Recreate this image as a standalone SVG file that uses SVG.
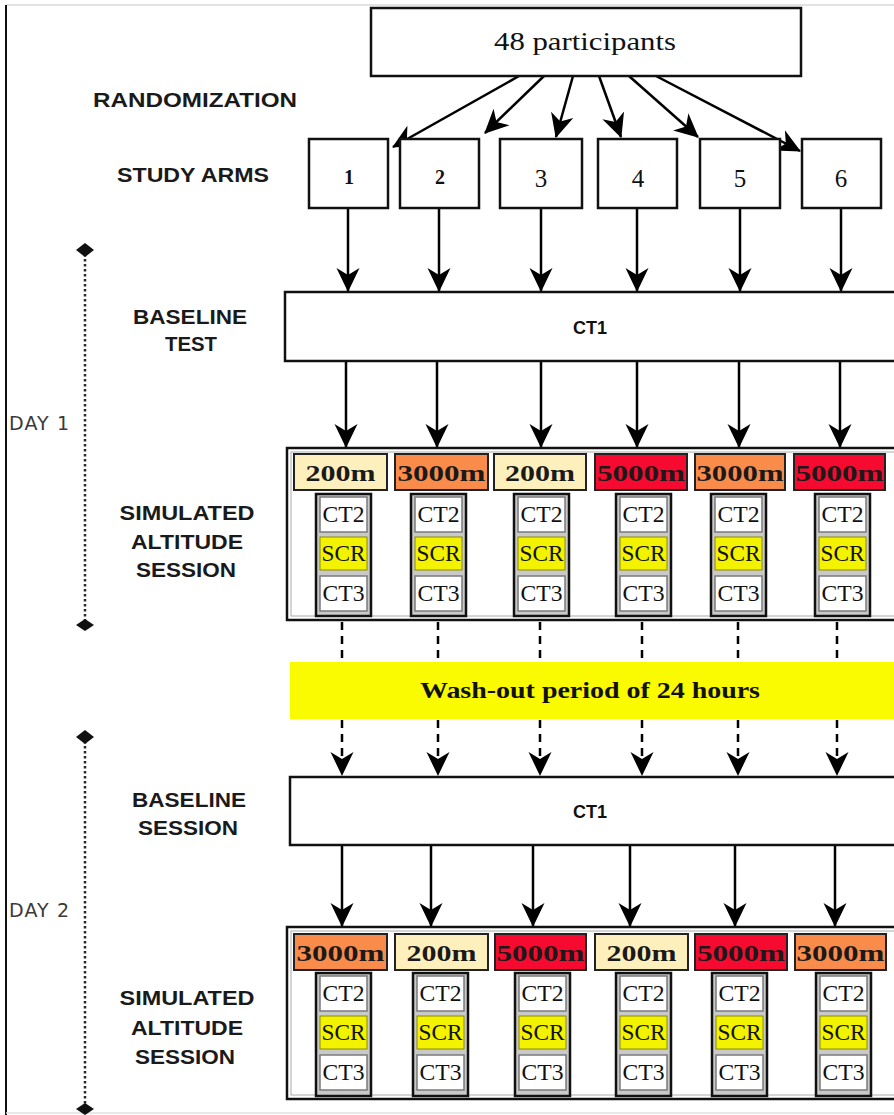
<svg xmlns="http://www.w3.org/2000/svg" width="894" height="1115" viewBox="0 0 894 1115">
<style>
.bg{fill:#fff}
.box{fill:#fff;stroke:#111;stroke-width:2.5}
.lbl{font-family:"Liberation Sans",Arial,sans-serif;font-weight:bold;font-size:20px;fill:#1a1a1a;text-anchor:middle}
.day{font-family:"DejaVu Sans",sans-serif;font-size:19px;fill:#3a3a3a}
.ser{font-family:"Liberation Serif","Times New Roman",serif;fill:#111;text-anchor:middle}
.ct1{font-family:"Liberation Sans",Arial,sans-serif;font-weight:bold;font-size:18px;fill:#111;text-anchor:middle}
.alt{stroke:#222;stroke-width:2}
.a200{fill:#fdf0bd}
.a3000{fill:#f98b4b}
.a5000{fill:#f60a30}
.altt{font-family:"Liberation Serif","Times New Roman",serif;font-size:24px;font-weight:bold;fill:#1a1a1a;text-anchor:middle}
.col{fill:#c9c9c9;stroke:#111;stroke-width:2.5}
.ct{fill:#fff;stroke:#7a7a7a;stroke-width:1.5}
.scr{fill:#f3f300;stroke:#8a8a00;stroke-width:1}
.cell{font-family:"Liberation Serif","Times New Roman",serif;font-size:23px;fill:#111;text-anchor:middle}
.conn{stroke:#000;stroke-width:2.5;fill:none;marker-end:url(#ah)}
.dash{stroke-dasharray:8 6}
.tl{stroke:#2a2a2a;stroke-width:2.5;stroke-dasharray:2.5 2.5;fill:none}
.tm{fill:#111}
</style>
<defs>
<marker id="ah" viewBox="0 0 24 24" refX="23" refY="12" markerWidth="24" markerHeight="24" markerUnits="userSpaceOnUse" orient="auto">
<path d="M0,0.5 L24,12 L0,23.5 L7,12 Z" fill="#000"/>
</marker>
</defs>
<rect class="bg" x="0" y="0" width="894" height="1115"/>
<line x1="6" y1="5" x2="894" y2="5" stroke="#d8d8d8" stroke-width="1.5"/>
<line x1="6" y1="5" x2="6" y2="1115" stroke="#111" stroke-width="2"/>
<line x1="6" y1="1113" x2="894" y2="1113" stroke="#e0e0e0" stroke-width="1.5"/>

<g id="connectors">
<line class="conn" x1="519" y1="76" x2="393" y2="147"/>
<line class="conn" x1="544" y1="76" x2="485" y2="133"/>
<line class="conn" x1="573" y1="76" x2="556" y2="137"/>
<line class="conn" x1="599" y1="76" x2="621" y2="137"/>
<line class="conn" x1="629" y1="76" x2="698" y2="137"/>
<line class="conn" x1="656" y1="76" x2="800" y2="151"/>

<line class="conn" x1="348" y1="208" x2="348" y2="291"/>
<line class="conn" x1="439" y1="208" x2="439" y2="291"/>
<line class="conn" x1="541" y1="208" x2="541" y2="291"/>
<line class="conn" x1="637" y1="208" x2="637" y2="291"/>
<line class="conn" x1="740" y1="208" x2="740" y2="291"/>
<line class="conn" x1="841" y1="208" x2="841" y2="291"/>

<line class="conn" x1="346" y1="361" x2="346" y2="447"/>
<line class="conn" x1="437" y1="361" x2="437" y2="447"/>
<line class="conn" x1="541" y1="361" x2="541" y2="447"/>
<line class="conn" x1="637" y1="361" x2="637" y2="447"/>
<line class="conn" x1="739" y1="361" x2="739" y2="447"/>
<line class="conn" x1="840" y1="361" x2="840" y2="447"/>

<line class="conn dash" x1="342" y1="622" x2="342" y2="775"/>
<line class="conn dash" x1="438" y1="622" x2="438" y2="775"/>
<line class="conn dash" x1="540" y1="622" x2="540" y2="775"/>
<line class="conn dash" x1="642" y1="622" x2="642" y2="775"/>
<line class="conn dash" x1="738" y1="622" x2="738" y2="775"/>
<line class="conn dash" x1="837" y1="622" x2="837" y2="775"/>

<line class="conn" x1="342" y1="845" x2="342" y2="926"/>
<line class="conn" x1="431" y1="845" x2="431" y2="926"/>
<line class="conn" x1="533" y1="845" x2="533" y2="926"/>
<line class="conn" x1="630" y1="845" x2="630" y2="926"/>
<line class="conn" x1="735" y1="845" x2="735" y2="926"/>
<line class="conn" x1="835" y1="845" x2="835" y2="926"/>
</g>

<g id="timeline-day1">
<line class="tl" x1="85" y1="254" x2="85" y2="622"/>
<polygon class="tm" points="76,250 85,243 94,250 85,257"/>
<polygon class="tm" points="76,625 85,619 94,625 85,631"/>
<text class="day" x="9" y="430" textLength="60">DAY 1</text>
</g>
<g id="timeline-day2">
<line class="tl" x1="85" y1="741" x2="85" y2="1106"/>
<polygon class="tm" points="76,737 85,730 94,737 85,744"/>
<polygon class="tm" points="76,1109 85,1103 94,1109 85,1115"/>
<text class="day" x="9" y="917" textLength="60">DAY 2</text>
</g>

<g id="row-labels">
<text class="lbl" x="195" y="107" textLength="204" lengthAdjust="spacingAndGlyphs">RANDOMIZATION</text>
<text class="lbl" x="193" y="182" textLength="152" lengthAdjust="spacingAndGlyphs">STUDY ARMS</text>
<text class="lbl" x="190" y="324" textLength="114" lengthAdjust="spacingAndGlyphs">BASELINE</text>
<text class="lbl" x="191" y="351" textLength="52" lengthAdjust="spacingAndGlyphs">TEST</text>
<text class="lbl" x="187" y="520" textLength="135" lengthAdjust="spacingAndGlyphs">SIMULATED</text>
<text class="lbl" x="187" y="549" textLength="112" lengthAdjust="spacingAndGlyphs">ALTITUDE</text>
<text class="lbl" x="186" y="577" textLength="100" lengthAdjust="spacingAndGlyphs">SESSION</text>
<text class="lbl" x="189" y="807" textLength="114" lengthAdjust="spacingAndGlyphs">BASELINE</text>
<text class="lbl" x="188" y="835" textLength="100" lengthAdjust="spacingAndGlyphs">SESSION</text>
<text class="lbl" x="187" y="1005" textLength="135" lengthAdjust="spacingAndGlyphs">SIMULATED</text>
<text class="lbl" x="187" y="1035" textLength="112" lengthAdjust="spacingAndGlyphs">ALTITUDE</text>
<text class="lbl" x="185" y="1064" textLength="100" lengthAdjust="spacingAndGlyphs">SESSION</text>
</g>

<g id="participants">
<rect class="box" x="371" y="8" width="430" height="68"/>
<text class="ser" x="585" y="50" font-size="25" textLength="182" lengthAdjust="spacingAndGlyphs">48 participants</text>
</g>

<g id="arm1"><rect class="box" x="309" y="139" width="79" height="69"/><text class="ser" x="349" y="184" font-size="20" font-weight="bold">1</text></g>
<g id="arm2"><rect class="box" x="400" y="139" width="79" height="69"/><text class="ser" x="440" y="184" font-size="20" font-weight="bold">2</text></g>
<g id="arm3"><rect class="box" x="500" y="139" width="82" height="69"/><text class="ser" x="541" y="187" font-size="25">3</text></g>
<g id="arm4"><rect class="box" x="598" y="139" width="79" height="69"/><text class="ser" x="638" y="187" font-size="25">4</text></g>
<g id="arm5"><rect class="box" x="700" y="139" width="80" height="69"/><text class="ser" x="740" y="187" font-size="25">5</text></g>
<g id="arm6"><rect class="box" x="802" y="139" width="79" height="69"/><text class="ser" x="841" y="187" font-size="25">6</text></g>

<g id="baseline-test">
<rect class="box" x="285" y="292" width="620" height="69"/>
<text class="ct1" x="590" y="334">CT1</text>
</g>

<g id="session-day1">
<rect class="box" x="287" y="448" width="620" height="172"/>
<rect x="291" y="452" width="620" height="164" fill="none" stroke="#aaa" stroke-width="1"/>
<rect class="alt a200" x="294" y="454" width="93" height="36"/><text class="altt" x="340.5" y="481" textLength="70" lengthAdjust="spacingAndGlyphs">200m</text>
<rect class="alt a3000" x="395" y="454" width="93" height="36"/><text class="altt" x="441.5" y="481" textLength="88" lengthAdjust="spacingAndGlyphs">3000m</text>
<rect class="alt a200" x="494" y="454" width="92" height="36"/><text class="altt" x="540" y="481" textLength="70" lengthAdjust="spacingAndGlyphs">200m</text>
<rect class="alt a5000" x="595" y="454" width="92" height="36"/><text class="altt" x="641" y="481" textLength="88" lengthAdjust="spacingAndGlyphs">5000m</text>
<rect class="alt a3000" x="695" y="454" width="90" height="36"/><text class="altt" x="740" y="481" textLength="87" lengthAdjust="spacingAndGlyphs">3000m</text>
<rect class="alt a5000" x="794" y="454" width="91" height="36"/><text class="altt" x="839.5" y="481" textLength="88" lengthAdjust="spacingAndGlyphs">5000m</text>
</g>

<g id="tests-day1">
<g id="d1c1"><rect class="col" x="316" y="494" width="55" height="122"/><rect class="ct" x="320" y="497" width="47" height="35"/><text class="cell" x="343.5" y="522" textLength="42" lengthAdjust="spacingAndGlyphs">CT2</text><rect class="scr" x="320" y="537" width="47" height="33"/><text class="cell" x="343.5" y="561" textLength="44" lengthAdjust="spacingAndGlyphs">SCR</text><rect class="ct" x="320" y="576" width="47" height="35"/><text class="cell" x="343.5" y="601" textLength="42" lengthAdjust="spacingAndGlyphs">CT3</text></g>
<g id="d1c2"><rect class="col" x="411" y="494" width="55" height="122"/><rect class="ct" x="415" y="497" width="47" height="35"/><text class="cell" x="438.5" y="522" textLength="42" lengthAdjust="spacingAndGlyphs">CT2</text><rect class="scr" x="415" y="537" width="47" height="33"/><text class="cell" x="438.5" y="561" textLength="44" lengthAdjust="spacingAndGlyphs">SCR</text><rect class="ct" x="415" y="576" width="47" height="35"/><text class="cell" x="438.5" y="601" textLength="42" lengthAdjust="spacingAndGlyphs">CT3</text></g>
<g id="d1c3"><rect class="col" x="514" y="494" width="55" height="122"/><rect class="ct" x="518" y="497" width="47" height="35"/><text class="cell" x="541.5" y="522" textLength="42" lengthAdjust="spacingAndGlyphs">CT2</text><rect class="scr" x="518" y="537" width="47" height="33"/><text class="cell" x="541.5" y="561" textLength="44" lengthAdjust="spacingAndGlyphs">SCR</text><rect class="ct" x="518" y="576" width="47" height="35"/><text class="cell" x="541.5" y="601" textLength="42" lengthAdjust="spacingAndGlyphs">CT3</text></g>
<g id="d1c4"><rect class="col" x="616" y="494" width="55" height="122"/><rect class="ct" x="620" y="497" width="47" height="35"/><text class="cell" x="643.5" y="522" textLength="42" lengthAdjust="spacingAndGlyphs">CT2</text><rect class="scr" x="620" y="537" width="47" height="33"/><text class="cell" x="643.5" y="561" textLength="44" lengthAdjust="spacingAndGlyphs">SCR</text><rect class="ct" x="620" y="576" width="47" height="35"/><text class="cell" x="643.5" y="601" textLength="42" lengthAdjust="spacingAndGlyphs">CT3</text></g>
<g id="d1c5"><rect class="col" x="711" y="494" width="55" height="122"/><rect class="ct" x="715" y="497" width="47" height="35"/><text class="cell" x="738.5" y="522" textLength="42" lengthAdjust="spacingAndGlyphs">CT2</text><rect class="scr" x="715" y="537" width="47" height="33"/><text class="cell" x="738.5" y="561" textLength="44" lengthAdjust="spacingAndGlyphs">SCR</text><rect class="ct" x="715" y="576" width="47" height="35"/><text class="cell" x="738.5" y="601" textLength="42" lengthAdjust="spacingAndGlyphs">CT3</text></g>
<g id="d1c6"><rect class="col" x="815" y="494" width="55" height="122"/><rect class="ct" x="819" y="497" width="47" height="35"/><text class="cell" x="842.5" y="522" textLength="42" lengthAdjust="spacingAndGlyphs">CT2</text><rect class="scr" x="819" y="537" width="47" height="33"/><text class="cell" x="842.5" y="561" textLength="44" lengthAdjust="spacingAndGlyphs">SCR</text><rect class="ct" x="819" y="576" width="47" height="35"/><text class="cell" x="842.5" y="601" textLength="42" lengthAdjust="spacingAndGlyphs">CT3</text></g>
</g>

<g id="washout">
<rect x="290" y="662" width="610" height="57" fill="#fafa00"/>
<text class="ser" x="590" y="698" font-size="24" font-weight="bold" textLength="340" lengthAdjust="spacingAndGlyphs">Wash-out period of 24 hours</text>
</g>

<g id="baseline-session">
<rect class="box" x="290" y="777" width="620" height="68"/>
<text class="ct1" x="590" y="818">CT1</text>
</g>

<g id="session-day2">
<rect class="box" x="287" y="927" width="620" height="172"/>
<rect x="291" y="931" width="620" height="164" fill="none" stroke="#aaa" stroke-width="1"/>
<rect class="alt a3000" x="294" y="934" width="93" height="36"/><text class="altt" x="340.5" y="961" textLength="88" lengthAdjust="spacingAndGlyphs">3000m</text>
<rect class="alt a200" x="395" y="934" width="93" height="36"/><text class="altt" x="441.5" y="961" textLength="70" lengthAdjust="spacingAndGlyphs">200m</text>
<rect class="alt a5000" x="495" y="934" width="91" height="36"/><text class="altt" x="540.5" y="961" textLength="88" lengthAdjust="spacingAndGlyphs">5000m</text>
<rect class="alt a200" x="595" y="934" width="93" height="36"/><text class="altt" x="641.5" y="961" textLength="70" lengthAdjust="spacingAndGlyphs">200m</text>
<rect class="alt a5000" x="695" y="934" width="92" height="36"/><text class="altt" x="741" y="961" textLength="88" lengthAdjust="spacingAndGlyphs">5000m</text>
<rect class="alt a3000" x="795" y="934" width="91" height="36"/><text class="altt" x="840.5" y="961" textLength="88" lengthAdjust="spacingAndGlyphs">3000m</text>
</g>

<g id="tests-day2">
<g id="d2c1"><rect class="col" x="316" y="973" width="55" height="123"/><rect class="ct" x="320" y="976" width="47" height="35"/><text class="cell" x="343.5" y="1001" textLength="42" lengthAdjust="spacingAndGlyphs">CT2</text><rect class="scr" x="320" y="1016" width="47" height="33"/><text class="cell" x="343.5" y="1040" textLength="44" lengthAdjust="spacingAndGlyphs">SCR</text><rect class="ct" x="320" y="1055" width="47" height="35"/><text class="cell" x="343.5" y="1080" textLength="42" lengthAdjust="spacingAndGlyphs">CT3</text></g>
<g id="d2c2"><rect class="col" x="413" y="973" width="55" height="123"/><rect class="ct" x="417" y="976" width="47" height="35"/><text class="cell" x="440.5" y="1001" textLength="42" lengthAdjust="spacingAndGlyphs">CT2</text><rect class="scr" x="417" y="1016" width="47" height="33"/><text class="cell" x="440.5" y="1040" textLength="44" lengthAdjust="spacingAndGlyphs">SCR</text><rect class="ct" x="417" y="1055" width="47" height="35"/><text class="cell" x="440.5" y="1080" textLength="42" lengthAdjust="spacingAndGlyphs">CT3</text></g>
<g id="d2c3"><rect class="col" x="515" y="973" width="55" height="123"/><rect class="ct" x="519" y="976" width="47" height="35"/><text class="cell" x="542.5" y="1001" textLength="42" lengthAdjust="spacingAndGlyphs">CT2</text><rect class="scr" x="519" y="1016" width="47" height="33"/><text class="cell" x="542.5" y="1040" textLength="44" lengthAdjust="spacingAndGlyphs">SCR</text><rect class="ct" x="519" y="1055" width="47" height="35"/><text class="cell" x="542.5" y="1080" textLength="42" lengthAdjust="spacingAndGlyphs">CT3</text></g>
<g id="d2c4"><rect class="col" x="616" y="973" width="55" height="123"/><rect class="ct" x="620" y="976" width="47" height="35"/><text class="cell" x="643.5" y="1001" textLength="42" lengthAdjust="spacingAndGlyphs">CT2</text><rect class="scr" x="620" y="1016" width="47" height="33"/><text class="cell" x="643.5" y="1040" textLength="44" lengthAdjust="spacingAndGlyphs">SCR</text><rect class="ct" x="620" y="1055" width="47" height="35"/><text class="cell" x="643.5" y="1080" textLength="42" lengthAdjust="spacingAndGlyphs">CT3</text></g>
<g id="d2c5"><rect class="col" x="712" y="973" width="55" height="123"/><rect class="ct" x="716" y="976" width="47" height="35"/><text class="cell" x="739.5" y="1001" textLength="42" lengthAdjust="spacingAndGlyphs">CT2</text><rect class="scr" x="716" y="1016" width="47" height="33"/><text class="cell" x="739.5" y="1040" textLength="44" lengthAdjust="spacingAndGlyphs">SCR</text><rect class="ct" x="716" y="1055" width="47" height="35"/><text class="cell" x="739.5" y="1080" textLength="42" lengthAdjust="spacingAndGlyphs">CT3</text></g>
<g id="d2c6"><rect class="col" x="816" y="973" width="55" height="123"/><rect class="ct" x="820" y="976" width="47" height="35"/><text class="cell" x="843.5" y="1001" textLength="42" lengthAdjust="spacingAndGlyphs">CT2</text><rect class="scr" x="820" y="1016" width="47" height="33"/><text class="cell" x="843.5" y="1040" textLength="44" lengthAdjust="spacingAndGlyphs">SCR</text><rect class="ct" x="820" y="1055" width="47" height="35"/><text class="cell" x="843.5" y="1080" textLength="42" lengthAdjust="spacingAndGlyphs">CT3</text></g>
</g>
</svg>
